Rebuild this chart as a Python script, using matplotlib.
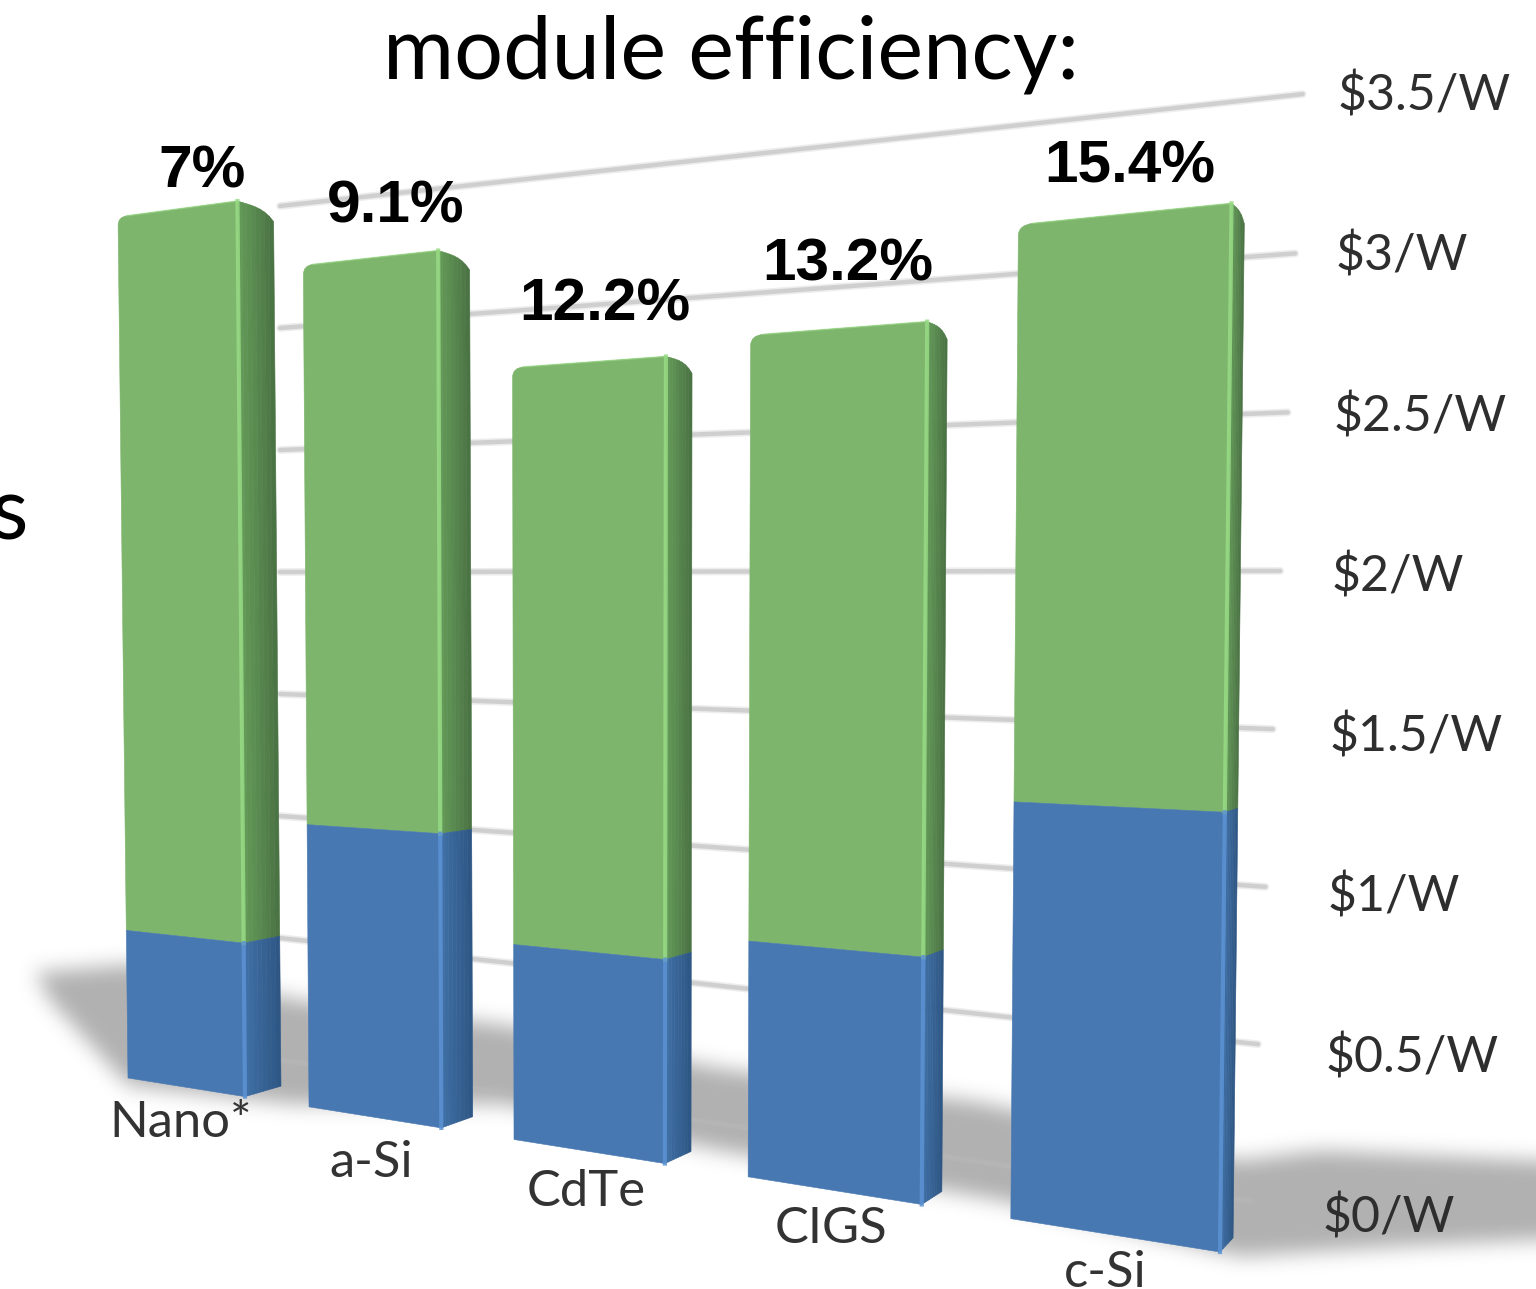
import numpy as np
import matplotlib
matplotlib.use("Agg")
import matplotlib.pyplot as plt
from matplotlib.path import Path
from matplotlib.patches import PathPatch, Polygon
from matplotlib.transforms import Transform

# ---- data -------------------------------------------------------------
categories = ["Nano*", "a-Si", "CdTe", "CIGS", "c-Si"]
efficiency = ["7%", "9.1%", "12.2%", "13.2%", "15.4%"]
blue_values = [0.60, 1.08, 0.70, 0.79, 1.30]
total_values = [3.50, 3.22, 2.77, 2.82, 3.10]
tick_values = [0, 0.5, 1, 1.5, 2, 2.5, 3, 3.5]
tick_labels = ["$0/W", "$0.5/W", "$1/W", "$1.5/W", "$2/W", "$2.5/W", "$3/W", "$3.5/W"]
title_text = "module efficiency:"
side_text = "s"

GREEN, GREEN_HI, GREEN_S0, GREEN_S1 = "#7DB56C", "#98DB85", "#639A58", "#486E41"
BLUE, BLUE_HI, BLUE_S0, BLUE_S1 = "#4878B1", "#5C93D4", "#3F6FA6", "#2C5480"
BAR_LEFT = [0, 1, 2, 3, 3.975]
BAR_RIGHT = [0.66, 1.66, 2.66, 3.66, 4.66]
X_SPAN = 4.66
V_SPAN = 3.5
FONT = "Lato"
plt.rcParams["font.family"] = [FONT, "DejaVu Sans"]


class Perspective(Transform):
    """Maps (position, value) on a plane onto canvas pixels in perspective."""
    input_dims = output_dims = 2
    is_separable = False
    has_inverse = False

    def __init__(self, x_span, v_span, ll, lr, ul, ur):
        super().__init__()
        self.x_span, self.v_span = x_span, v_span
        self.ll, self.lr, self.ul, self.ur = map(np.asarray, (ll, lr, ul, ur))
        self.w1 = (ll[1] - ul[1]) / (lr[1] - ur[1])

    def transform_non_affine(self, values):
        values = np.asarray(values, dtype=float)
        t = values[:, 0:1] / self.x_span
        s = values[:, 1:2] / self.v_span
        w = 1 + (self.w1 - 1) * t
        low = self.ll + (self.lr * self.w1 - self.ll) * t
        up = self.ul + (self.ur * self.w1 - self.ul) * t
        return (low * (1 - s) + up * s) / w

    def transform_path_non_affine(self, path):
        return Path(self.transform_non_affine(path.vertices), path.codes)


fig = plt.figure(figsize=(15.36, 12.89), dpi=100, facecolor="white")
ax = fig.add_axes([0, 0, 1, 1])
ax.set_axis_off()
ax.set_autoscale_on(False)
ax.set_xlim(0, 1536)
ax.set_ylim(1289, 0)

bar_plane = Perspective(X_SPAN, V_SPAN, (128, 1078), (1220, 1252), (118, 217), (1233, 68))
wall_plane = Perspective(1.0, V_SPAN, (280, 1060), (1325, 1212), (280, 206), (1340, 90))
bar_trf = bar_plane + ax.transData
wall_trf = wall_plane + ax.transData


# ---- floor shadow (soft decoration behind everything) -----------------
def soft_shadow():
    outline = [(35, 972), (130, 964), (300, 1000), (500, 1024), (720, 1068), (980, 1102),
               (1240, 1160), (1320, 1150), (1640, 1165), (1640, 1234), (1400, 1246),
               (1240, 1256), (1000, 1200), (720, 1150), (500, 1103), (290, 1103),
               (128, 1085), (50, 1000)]
    xs, ys = np.meshgrid(np.arange(-60, 1640), np.arange(0, 1289))
    mask = Path(outline).contains_points(np.c_[xs.ravel(), ys.ravel()]).reshape(xs.shape).astype(float)
    n = 19
    a, b = n // 2 + 1, n // 2
    for _ in range(3):
        c = np.cumsum(np.pad(mask, ((0, 0), (a, b)), mode="edge"), axis=1)
        mask = (c[:, n:] - c[:, :-n]) / n
        c = np.cumsum(np.pad(mask, ((a, b), (0, 0)), mode="edge"), axis=0)
        mask = (c[n:, :] - c[:-n, :]) / n
    img = np.zeros(mask.shape + (4,))
    img[..., :3] = 0.55
    img[..., 3] = mask * 0.68
    return img


ax.imshow(soft_shadow(), extent=(-60, 1640, 1289, 0), origin="upper", aspect="auto",
          interpolation="bilinear", zorder=0)
ax.set_xlim(0, 1536)
ax.set_ylim(1289, 0)

# ---- gridlines and tick labels -----------------------------------------
for v, label in zip(tick_values, tick_labels):
    t_end = 0.945 + 0.008 * v
    for lw, alpha in ((5.5, 0.25), (3.2, 0.55)):
        ax.plot([0, t_end], [v, v], color="#b8b8b8", lw=lw, alpha=alpha,
                solid_capstyle="round", transform=wall_trf, zorder=1)
    ax.annotate(label, xy=(1.0, v), xycoords=wall_trf, xytext=(-2, -6),
                textcoords="offset pixels", ha="left", va="center", fontsize=36,
                color="#2e2e2e", zorder=6)


# ---- bars ---------------------------------------------------------------
def side_face(pts_top, pts_bot, c0, c1, round_top):
    """Receding right side of a bar, drawn as thin strips toward the vanishing point."""
    vp = np.array([1777.0, 650.0])
    depth = 0.0235
    n = 8
    c0, c1 = np.array(matplotlib.colors.to_rgb(c0)), np.array(matplotlib.colors.to_rgb(c1))
    for i in range(n):
        f0, f1 = i / n, (i + 1) / n
        def top(f):
            p = pts_top + depth * f * (vp - pts_top)
            return p + (0, (10 * f ** 4 if round_top else 0))
        def bot(f):
            return pts_bot + depth * f * (vp - pts_bot)
        ax.add_patch(Polygon([top(f0), top(f1), bot(f1), bot(f0)], closed=True,
                             facecolor=c0 + (c1 - c0) * f0, edgecolor=c0 + (c1 - c0) * f0,
                             lw=0.4, zorder=3))


for i, (blue, total) in enumerate(zip(blue_values, total_values)):
    x0, x1 = BAR_LEFT[i], BAR_RIGHT[i]
    to_px = bar_plane.transform_non_affine
    tr, br, mr = to_px(np.array([[x1, total], [x1, 0], [x1, blue]]))
    side_face(tr, mr, GREEN_S0, GREEN_S1, True)
    side_face(mr, br, BLUE_S0, BLUE_S1, False)
    rx, ry = 0.05, 0.035
    verts = [(x0, blue), (x0, total - ry), (x0, total), (x0 + rx, total),
             (x1, total), (x1, blue), (x0, blue)]
    codes = [Path.MOVETO, Path.LINETO, Path.CURVE3, Path.CURVE3, Path.LINETO, Path.LINETO, Path.CLOSEPOLY]
    ax.add_patch(PathPatch(Path(verts, codes), facecolor=GREEN, edgecolor=GREEN, lw=0.4,
                           transform=bar_trf, zorder=3))
    ax.bar(x0, blue, x1 - x0, bottom=0, align="edge", color=BLUE, edgecolor=BLUE, lw=0.4,
           transform=bar_trf, zorder=3)
    ax.plot([x1, x1], [blue, total], color=GREEN_HI, lw=3.0, alpha=0.85, transform=bar_trf, zorder=4)
    ax.plot([x1, x1], [0, blue], color=BLUE_HI, lw=3.0, alpha=0.85, transform=bar_trf, zorder=4)
    ax.plot([x0 + rx, x1], [total, total], color=GREEN_HI, lw=1.2, alpha=0.5, transform=bar_trf, zorder=4)

# ---- texts ---------------------------------------------------------------
pct_offset = [(26, 37), (26, 51), (17, 57), (11, 64), (8, 47)]
for i, (text, total) in enumerate(zip(efficiency, total_values)):
    xc = (BAR_LEFT[i] + BAR_RIGHT[i]) / 2
    ax.annotate(text, xy=(xc, total), xycoords=bar_trf, xytext=pct_offset[i],
                textcoords="offset pixels", ha="center", va="center", fontsize=43.5,
                fontweight="bold", family=["Liberation Sans"], color="black", zorder=7)

cat_offset = [(-5, -36), (-3, -46), (-2, -41), (-2, -39), (-7, -38)]
for i, text in enumerate(categories):
    xc = (BAR_LEFT[i] + BAR_RIGHT[i]) / 2
    ax.annotate(text, xy=(xc, 0), xycoords=bar_trf, xytext=cat_offset[i],
                textcoords="offset pixels", ha="center", va="center", fontsize=36.5,
                color="#333333", zorder=7)

ax.text(731, 54, title_text, ha="center", va="center", fontsize=62.3, color="black", zorder=7)
ax.text(28, 540, side_text, ha="right", va="baseline", fontsize=62.3, color="black", zorder=7)

fig.savefig("out.png", dpi=100, facecolor="white")
